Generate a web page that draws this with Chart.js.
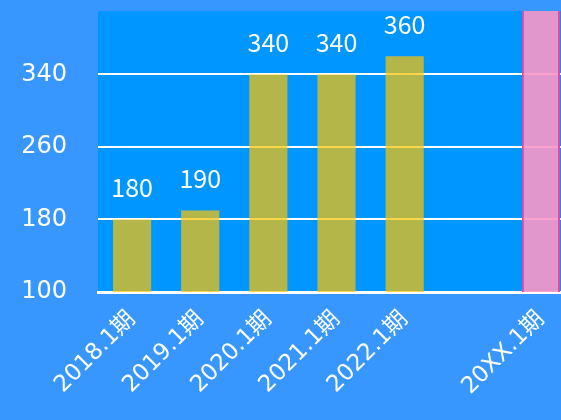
<!DOCTYPE html>
<html>
<head>
<meta charset="utf-8">
<script src="https://cdn.jsdelivr.net/npm/chart.js@4/dist/chart.umd.min.js"></script>
<style>
  html, body { margin: 0; padding: 0; background: #3797ff; overflow: hidden; }
  #wrap { width: 575px; height: 420px; }
</style>
</head>
<body>
<div id="wrap"><canvas id="chart"></canvas></div>
<script>
const categories = ['2018.1期', '2019.1期', '2020.1期', '2021.1期', '2022.1期', '', '20XX.1期'];
const values = [180, 190, 340, 340, 360, null, 410];
const valueLabels = ['180', '190', '340', '340', '360', '', ''];
const yTicks = [100, 180, 260, 340];

const barFill = 'rgba(255, 196, 0, 0.71)';
const targetFill = 'rgba(251, 151, 199, 0.9)';
const targetBorder = 'rgb(232, 72, 160)';
const font = "'Noto Sans CJK JP', 'DejaVu Sans', sans-serif";
const axisFont = "'DejaVu Sans', 'Noto Sans CJK JP', sans-serif";

const plotBackground = {
  id: 'plotBackground',
  beforeDraw(chart) {
    const { ctx, chartArea: a } = chart;
    ctx.save();
    ctx.fillStyle = '#0096ff';
    ctx.fillRect(a.left, a.top, a.right - a.left, a.bottom - a.top);
    ctx.restore();
  }
};

// numbers over the bars
const valueLabelPlugin = {
  id: 'valueLabels',
  afterDatasetsDraw(chart) {
    const { ctx } = chart;
    const meta = chart.getDatasetMeta(0);
    ctx.save();
    ctx.fillStyle = '#ffffff';
    ctx.font = '25px ' + font;
    ctx.textAlign = 'center';
    ctx.textBaseline = 'bottom';
    meta.data.forEach((bar, i) => {
      if (!valueLabels[i]) return;
      ctx.fillText(valueLabels[i], bar.x, bar.y - 19);
    });
    ctx.restore();
  }
};

new Chart(document.getElementById('chart'), {
  type: 'bar',
  data: {
    labels: categories,
    datasets: [{
      data: values,
      backgroundColor: values.map((v, i) => i === 6 ? targetFill : barFill),
      borderColor: values.map((v, i) => i === 6 ? targetBorder : 'rgba(0,0,0,0)'),
      borderWidth: values.map((v, i) => i === 6 ? { left: 2, right: 2, top: 0, bottom: 0 } : 0),
      borderSkipped: false,
      categoryPercentage: 0.56,
      barPercentage: 1.0
    }]
  },
  options: {
    responsive: true,
    maintainAspectRatio: false,
    animation: false,
    layout: { padding: { top: 11, left: 0, right: 0, bottom: 0 } },
    plugins: { legend: { display: false }, tooltip: { enabled: false } },
    scales: {
      x: {
        grid: { display: false },
        border: { display: true, color: '#ffffff', width: 3 },
        ticks: {
          color: '#ffffff',
          font: { family: axisFont, size: 23 },
          maxRotation: 45,
          minRotation: 45,
          autoSkip: false,
          padding: 6
        },
        afterFit(scale) { scale.height = 128; }
      },
      y: {
        min: 100,
        max: 410,
        afterBuildTicks(scale) { scale.ticks = yTicks.map(v => ({ value: v })); },
        grid: { color: '#ffffff', lineWidth: 2, drawTicks: true, tickLength: 31, tickColor: 'rgba(0,0,0,0)' },
        border: { display: false },
        ticks: {
          color: '#ffffff',
          font: { family: axisFont, size: 24, lineHeight: 0.9 },
          padding: 0
        },
        afterFit(scale) { scale.width = 98; }
      }
    }
  },
  plugins: [plotBackground, valueLabelPlugin]
});
</script>
</body>
</html>
